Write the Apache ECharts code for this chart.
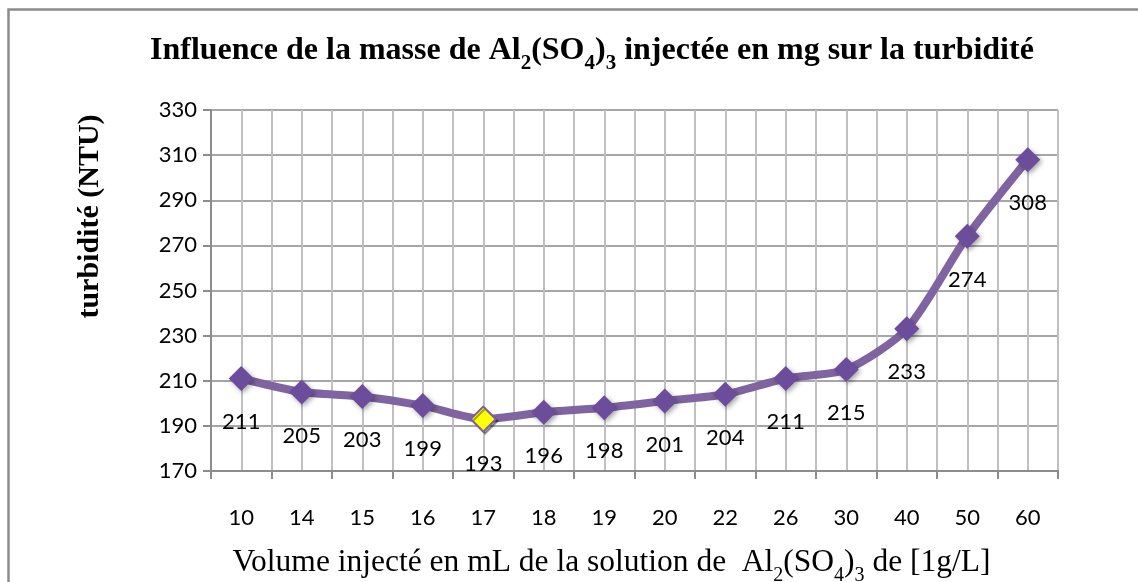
<!DOCTYPE html>
<html>
<head>
<meta charset="utf-8">
<script src="https://cdn.jsdelivr.net/npm/echarts@6/dist/echarts.min.js"></script>
<style>
html,body{margin:0;padding:0;background:#fff;}
#chart{width:1138px;height:582px;}
</style>
</head>
<body>
<div id="chart"></div>
<script>
// Data
const categories = ['10','14','15','16','17','18','19','20','22','26','30','40','50','60'];
const turbidity = [211,205,203,199,193,196,198,201,204,211,215,233,274,308];
const yTicks = {min:170, max:330, interval:20};
const highlightIndex = 4; // 17 mL, optimum (yellow marker)

const serif = '"Liberation Serif", "Times New Roman", serif';
const sans = 'Lato, Carlito, Calibri, sans-serif';

const seriesData = turbidity.map((v, i) => i === highlightIndex
  ? {value: v, itemStyle: {color: '#ffff00', borderColor: '#7a5fa6', borderWidth: 2, shadowBlur: 0}}
  : v);

const chart = echarts.init(document.getElementById('chart'));
chart.setOption({
  animation: false,
  backgroundColor: '#fff',
  title: {
    text: '{t|Influence de la masse de Al}{s|2}{t|(SO}{s|4}{t|)}{s|3}{t| injectée en mg sur la turbidité}',
    left: 145,
    top: 30,
    textStyle: {
      rich: {
        t: {fontFamily: serif, fontWeight: 'bold', fontSize: 32, color: '#000', verticalAlign: 'bottom'},
        s: {fontFamily: serif, fontWeight: 'bold', fontSize: 21, color: '#000', verticalAlign: 'bottom', padding: [0,0,-7,0]}
      }
    }
  },
  graphic: [{
    type: 'rect', left: 6, top: 7,
    shape: {width: 1160, height: 600},
    style: {fill: 'none', stroke: '#8c8c8c', lineWidth: 2.5},
    silent: true, z: -1
  }],
  grid: {left: 211, right: 80, top: 110, bottom: 111, containLabel: false, outerBoundsMode: 'none'},
  xAxis: [{
    type: 'category',
    data: categories,
    boundaryGap: true,
    axisLine: {show: true, lineStyle: {color: '#8c8c8c', width: 2}},
    axisTick: {show: true, length: 8, interval: 0, lineStyle: {color: '#8c8c8c', width: 2}},
    axisLabel: {interval: 0, margin: 36, fontFamily: sans, fontSize: 22, color: '#000'},
    splitLine: {show: false},
    name: '{t|Volume injecté en mL de la solution de  Al}{s|2}{t|(SO}{s|4}{t|)}{s|3}{t| de [1g/L]}',
    nameLocation: 'middle',
    nameGap: 76,
    nameTextStyle: {
      padding: [0, 46, 0, 0],
      rich: {
        t: {fontFamily: serif, fontSize: 31.5, color: '#000', verticalAlign: 'bottom'},
        s: {fontFamily: serif, fontSize: 20, color: '#000', verticalAlign: 'bottom', padding: [0,0,-7,0]}
      }
    }
  }, {
    type: 'value',
    min: 0, max: 28, interval: 1,
    show: true,
    axisLine: {show: false}, axisTick: {show: false}, axisLabel: {show: false},
    splitLine: {show: true, lineStyle: {color: '#c0c0c0', width: 2}},
    z: 0
  }],
  yAxis: {
    type: 'value',
    min: yTicks.min, max: yTicks.max, interval: yTicks.interval,
    axisLine: {show: true, lineStyle: {color: '#8c8c8c', width: 2}},
    axisTick: {show: true, length: 8, lineStyle: {color: '#8c8c8c', width: 2}},
    axisLabel: {margin: 14, fontFamily: sans, fontSize: 22, color: '#000'},
    splitLine: {show: true, lineStyle: {color: '#a6a6a6', width: 2}},
    name: 'turbidité (NTU)',
    nameLocation: 'middle',
    nameGap: 106,
    nameTextStyle: {fontFamily: serif, fontWeight: 'bold', fontSize: 30, color: '#000', padding: [0, 0, 0, 148]}
  },
  series: [{
    type: 'line',
    data: seriesData,
    xAxisIndex: 0,
    smooth: 0.25,
    symbol: 'diamond',
    symbolSize: 25,
    lineStyle: {color: '#8064a2', width: 8},
    itemStyle: {color: '#6b4d9c', shadowColor: 'rgba(0,0,0,0.35)', shadowBlur: 5, shadowOffsetX: 2, shadowOffsetY: 2},
    label: {show: true, position: 'bottom', distance: 20, fontFamily: sans, fontSize: 22, color: '#000'},
    z: 5
  }]
});
</script>
</body>
</html>
